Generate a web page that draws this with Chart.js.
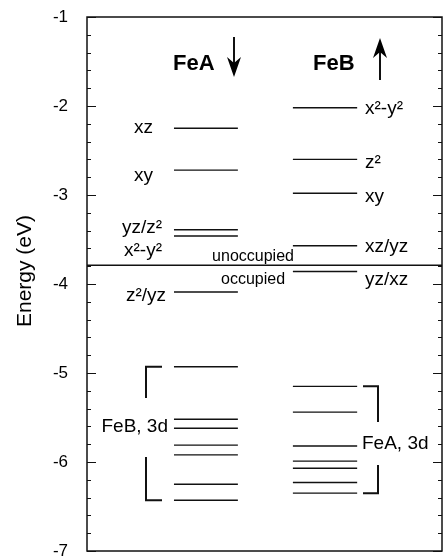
<!DOCTYPE html>
<html>
<head>
<meta charset="utf-8">
<script src="https://cdn.jsdelivr.net/npm/chart.js@4/dist/chart.umd.min.js"></script>
<style>
  body { margin: 0; background: #fff; }
  #wrap { width: 443px; height: 556px; position: relative; }
</style>
</head>
<body>
<div id="wrap"><canvas id="levels"></canvas></div>
<script>
// ---------------------------- level data (eV) ----------------------------
// FeA spin-down column, valence levels near the gap
let feaLevels = [-2.25, -2.72, -3.39, -3.46, -4.09];
let feaNames = ["xz", "xy", "yz/z²", "x²-y²", "z²/yz"];
// FeB spin-up column
let febLevels = [-2.02, -2.6, -2.98, -3.57, -3.86];
let febNames = ["x²-y²", "z²", "xy", "xz/yz", "yz/xz"];
// 3d bands of the other iron, sitting in each column
let feb3dLevels = [-4.93, -5.52, -5.62, -5.81, -5.92, -6.25, -6.43];
let fea3dLevels = [-5.15, -5.44, -5.82, -5.99, -6.07, -6.23, -6.35];
let fermiLevel = -3.79;
let yTicks = [-7, -6, -5, -4, -3, -2, -1];

// column spans on the 0..100 x scale
const colA = [24.5, 42.5];
const colB = [58, 76.1];
const FONT = "'Liberation Sans', Arial, Helvetica, sans-serif";

let levelSet = (levels, col) =>
  levels.map((e) => ({
    data: [{ x: col[0], y: e }, { x: col[1], y: e }],
    showLine: true,
    borderColor: "#111",
    borderWidth: 1.4,
    pointRadius: 0,
  }));

let datasets = [
  ...levelSet(feaLevels, colA),
  ...levelSet(febLevels, colB),
  ...levelSet(feb3dLevels, colA),
  ...levelSet(fea3dLevels, colB),
  {
    data: [{ x: 0, y: fermiLevel }, { x: 100, y: fermiLevel }],
    showLine: true,
    borderColor: "#111",
    borderWidth: 1.6,
    pointRadius: 0,
  },
];

// ------------------------- frame, labels, brackets -------------------------
let decorations = {
  id: "decorations",
  afterDraw(chart) {
    let ctx = chart.ctx;
    let y = chart.scales.y;
    let a = chart.chartArea;
    let py = (v) => y.getPixelForValue(v);
    ctx.save();
    ctx.strokeStyle = "#111";
    ctx.fillStyle = "#000";

    // frame
    ctx.lineWidth = 1.5;
    ctx.strokeRect(a.left, a.top, a.right - a.left, a.bottom - a.top);

    // inward ticks on both sides, minor every 0.2 eV
    ctx.lineWidth = 1;
    for (let i = 0; i <= 30; i++) {
      let v = -7 + i * 0.2;
      let len = i % 5 == 0 ? 9 : 4;
      let yy = Math.round(py(v)) + 0.5;
      ctx.beginPath();
      ctx.moveTo(a.left, yy);
      ctx.lineTo(a.left + len, yy);
      ctx.moveTo(a.right, yy);
      ctx.lineTo(a.right - len, yy);
      ctx.stroke();
    }

    // tick labels
    ctx.font = "17px " + FONT;
    ctx.textAlign = "right";
    ctx.textBaseline = "middle";
    yTicks.forEach((v) => ctx.fillText(String(v), a.left - 19, py(v)));

    // axis title
    ctx.save();
    ctx.translate(25, 271);
    ctx.rotate(-Math.PI / 2);
    ctx.font = "21px " + FONT;
    ctx.textAlign = "center";
    ctx.fillText("Energy (eV)", 0, 0);
    ctx.restore();

    // column headings
    ctx.font = "bold 22px " + FONT;
    ctx.textAlign = "left";
    ctx.fillText("FeA", 173, 64);
    ctx.fillText("FeB", 313, 64);

    // spin arrows
    let arrow = (cx, y0, y1) => {
      let dir = y1 > y0 ? 1 : -1;
      ctx.lineWidth = 2;
      ctx.beginPath();
      ctx.moveTo(cx, y0);
      ctx.lineTo(cx, y1 - dir * 12);
      ctx.stroke();
      ctx.beginPath();
      ctx.moveTo(cx, y1);
      ctx.lineTo(cx - 7, y1 - dir * 20);
      ctx.lineTo(cx, y1 - dir * 14);
      ctx.lineTo(cx + 7, y1 - dir * 20);
      ctx.closePath();
      ctx.fill();
    };
    arrow(234, 37, 77);
    arrow(380, 80, 38);

    // orbital names
    ctx.font = "19px " + FONT;
    let offA = [0, 6, -2, 15, 4];
    let rightA = [153, 153, 162, 162, 166];
    ctx.textAlign = "right";
    feaNames.forEach((t, i) => ctx.fillText(t, rightA[i], py(feaLevels[i]) + offA[i]));
    let offB = [1, 3, 4, 1, 8];
    ctx.textAlign = "left";
    febNames.forEach((t, i) => ctx.fillText(t, 365, py(febLevels[i]) + offB[i]));

    // occupied / unoccupied marks around the Fermi line
    ctx.font = "16px " + FONT;
    ctx.textAlign = "center";
    ctx.fillText("unoccupied", 253, py(fermiLevel) - 9);
    ctx.fillText("occupied", 253, py(fermiLevel) + 14);

    // 3d brackets
    ctx.font = "19px " + FONT;
    ctx.lineWidth = 2;
    let bTop = py(Math.max(...feb3dLevels));
    let bBot = py(Math.min(...feb3dLevels));
    ctx.beginPath();
    ctx.moveTo(162, bTop);
    ctx.lineTo(146, bTop);
    ctx.lineTo(146, 398);
    ctx.moveTo(146, 457);
    ctx.lineTo(146, bBot);
    ctx.lineTo(162, bBot);
    ctx.stroke();
    ctx.textAlign = "right";
    ctx.fillText("FeB, 3d", 168, 427);

    let aTop = py(Math.max(...fea3dLevels));
    let aBot = py(Math.min(...fea3dLevels));
    ctx.beginPath();
    ctx.moveTo(363, aTop);
    ctx.lineTo(378, aTop);
    ctx.lineTo(378, 422);
    ctx.moveTo(378, 465);
    ctx.lineTo(378, aBot);
    ctx.lineTo(363, aBot);
    ctx.stroke();
    ctx.textAlign = "left";
    ctx.fillText("FeA, 3d", 362, 444);

    ctx.restore();
  },
};

new Chart(document.getElementById("levels"), {
  type: "scatter",
  data: { datasets: datasets },
  options: {
    responsive: true,
    maintainAspectRatio: false,
    animation: false,
    events: [],
    layout: { padding: { top: 17, right: 1, bottom: 5, left: 87 } },
    plugins: { legend: { display: false }, tooltip: { enabled: false } },
    scales: {
      x: { type: "linear", min: 0, max: 100, display: false },
      y: { type: "linear", min: -7, max: -1, display: false },
    },
  },
  plugins: [decorations],
});
</script>
</body>
</html>
